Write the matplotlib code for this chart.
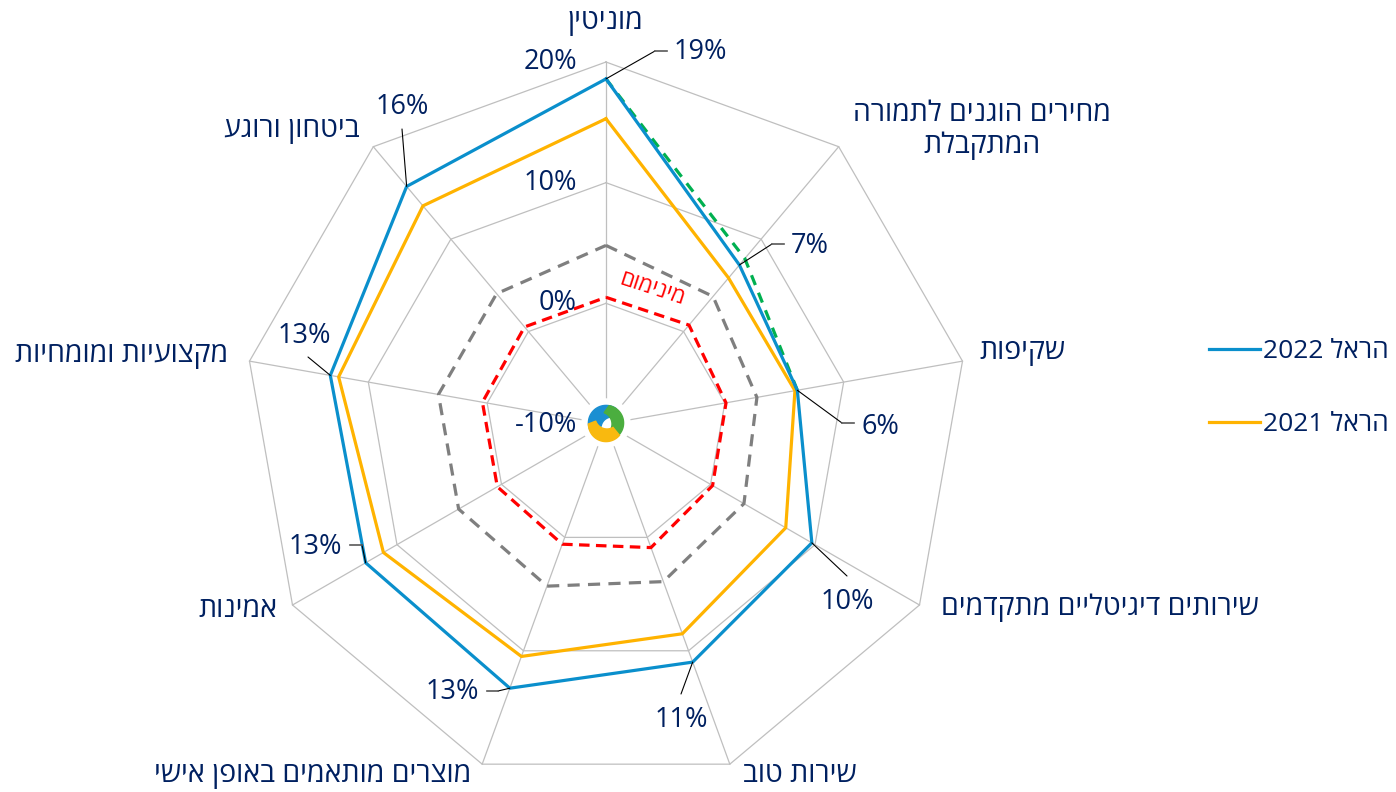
import re
import numpy as np
import matplotlib
matplotlib.use("Agg")
import matplotlib.pyplot as plt
from matplotlib.lines import Line2D
from matplotlib.patches import Polygon, Circle

plt.rcParams['font.family'] = ['Open Sans', 'Liberation Sans', 'DejaVu Sans']

W, H = 1396, 792
NAVY = "#002060"

# ----- data -----
categories = ["מוניטין", "מחירים הוגנים לתמורה\nהמתקבלת", "שקיפות",
              "שירותים דיגיטליים מתקדמים", "שירות טוב", "מוצרים מותאמים באופן אישי",
              "אמינות", "מקצועיות ומומחיות", "ביטחון ורוגע"]
harel_2022 = [18.6, 7.2, 6.1, 9.7, 11.0, 13.3, 13.0, 13.2, 15.7]
harel_2021 = [15.3, 5.8, 5.9, 7.2, 8.5, 10.5, 11.3, 12.5, 13.6]
gray_ref = [4.8, 3.8, 2.7, 3.2, 3.9, 4.3, 4.1, 4.1, 4.1]
minimum = [0.5, 0.7, 0.1, 0.2, 0.9, 0.6, 0.4, 0.4, 0.5]
green_ref = [18.6, 7.9, 6.1, np.nan, np.nan, np.nan, np.nan, np.nan, np.nan]
r_ticks = [-10, 0, 10, 20]
legend_labels = ["הראל 2022", "הראל 2021"]


def rtl(s):
    # matplotlib has no bidi: flip each line, keep numbers readable
    out = []
    for line in s.split("\n"):
        rev = line[::-1]
        out.append(re.sub(r"[-0-9%]+", lambda m: m.group(0)[::-1], rev))
    return "\n".join(out)


def fp(x, y):
    # figure pixel (from top-left) -> figure fraction
    return x / W, 1 - y / H


def crescent(c_out, R, a1, a2, c_in, r, b1, b2):
    # outer arc a1->a2, back along inner arc b1->b2 (degrees)
    ta = np.radians(np.linspace(a1, a2, 40))
    tb = np.radians(np.linspace(b1, b2, 40))
    outer = np.c_[c_out[0] + R * np.cos(ta), c_out[1] + R * np.sin(ta)]
    inner = np.c_[c_in[0] + r * np.cos(tb), c_in[1] + r * np.sin(tb)]
    return np.vstack([outer, inner])


n = len(categories)
theta = np.arange(n) * 2 * np.pi / n
theta_c = np.append(theta, theta[0])
close = lambda v: np.append(v, v[0])

fig = plt.figure(figsize=(13.96, 7.92), dpi=100)
ax = fig.add_axes([244 / W, 6 / H, 724 / W, 724 / H], projection="polar")
ax.set_theta_zero_location("N")
ax.set_theta_direction(-1)
ax.set_ylim(-10, 20)
ax.grid(False)
ax.set_xticks([])
ax.set_yticks([])
ax.spines["polar"].set_visible(False)
ax.patch.set_visible(False)

# polygon grid + spokes
for r in r_ticks[1:]:
    ax.plot(theta_c, [r] * (n + 1), color="#BFBFBF", lw=0.9, clip_on=False, zorder=1)
for t in theta:
    ax.plot([t, t], [-10, 20], color="#BFBFBF", lw=0.9, clip_on=False, zorder=1)

# series
ax.plot(theta_c, close(minimum), color="#FF0000", lw=2.3, dashes=(3.3, 2.0), zorder=2)
ax.plot(theta_c, close(gray_ref), color="#7F7F7F", lw=2.3, dashes=(3.8, 2.6), zorder=2)
l21, = ax.plot(theta_c, close(harel_2021), color="#FFB300", lw=2.3, clip_on=False, zorder=3)
ax.plot(theta_c, close(green_ref), color="#00B050", lw=2.3, dashes=(3.3, 2.6), zorder=3)
l22, = ax.plot(theta_c, close(harel_2022), color="#0A8FCC", lw=2.3, clip_on=False, zorder=4)

# radial tick labels
for r in r_ticks:
    ax.annotate(f"{r}%", xy=(0, r), xytext=(-21, -1 if r == -10 else 0),
                textcoords="offset points",
                ha="right", va="center", fontsize=19.5, color=NAVY)

# category labels
cat_pos = [(605, 22), (982, 130), (1022, 352), (1100, 608), (800, 775),
           (313, 775), (238, 610), (122, 355), (292, 130)]
for lab, (x, y) in zip(categories, cat_pos):
    fig.text(*fp(x, y), rtl(lab), ha="center", va="center", fontsize=20.5,
             color=NAVY, linespacing=1.2)

# value labels with leader lines (2022)
val_pos = [(700, 52), (810, 246), (880, 427), (847, 602), (681, 720),
           (452, 692), (315, 547), (304, 336), (402, 107)]
elbows = [(655, 51), (772, 244), (842, 423), (847, 576), (681, 694),
          (498, 691), (362, 545), (308, 357), (402, 129)]
stubs = [667, 784, 854, None, None, 487, 350, None, None]
for t, v, (lx, ly), (ex, ey), sx in zip(theta, harel_2022, val_pos, elbows, stubs):
    ax.annotate("", xy=(t, v), xytext=fp(ex, ey), textcoords="figure fraction",
                arrowprops=dict(arrowstyle="-", color="black", lw=0.8,
                                shrinkA=0, shrinkB=0), zorder=5)
    if sx is not None:
        fig.add_artist(Line2D([ex / W, sx / W], [1 - ey / H] * 2,
                              transform=fig.transFigure, color="#595959", lw=1.2))
    fig.text(*fp(lx, ly), f"{round(v)}%", ha="center", va="center",
             fontsize=19.5, color=NAVY)

# "minimum" label along the red line
fig.text(*fp(652, 289), rtl("מינימום"), ha="center", va="center", fontsize=16,
         color="#FF0000", rotation=-18, rotation_mode="anchor")

# legend
fig.legend([l22, l21], [rtl(s) for s in legend_labels], loc="center left",
           bbox_to_anchor=fp(1209, 388), frameon=False, fontsize=19,
           borderpad=0, borderaxespad=0,
           handlelength=1.95, handletextpad=0.1, labelspacing=1.8,
           labelcolor=NAVY)

# logo in the centre (white disc hides the spoke ends)
lax = fig.add_axes([(606 - 30) / W, (792 - 423 - 30) / H, 60 / W, 60 / H])
lax.set_xlim(-1.5, 1.5)
lax.set_ylim(-1.5, 1.5)
lax.set_aspect("equal")
lax.axis("off")
lax.add_patch(Circle((0, 0), 1.2, color="white"))
lax.add_patch(Polygon(crescent((0.0, 0.0), 0.88, 55, 200, (0.3, -0.25), 0.55, 170, 40),
                      color="#1B8FD2"))
lax.add_patch(Polygon(crescent((0.0, 0.0), 0.88, 80, -60, (-0.3, -0.05), 0.6, -45, 70),
                      color="#4BAE3F"))
lax.add_patch(Polygon(crescent((0.0, -0.05), 0.88, 180, 320, (0.05, 0.3), 0.6, 300, 200),
                      color="#F9B90F"))

fig.savefig("out.png", dpi=100)
